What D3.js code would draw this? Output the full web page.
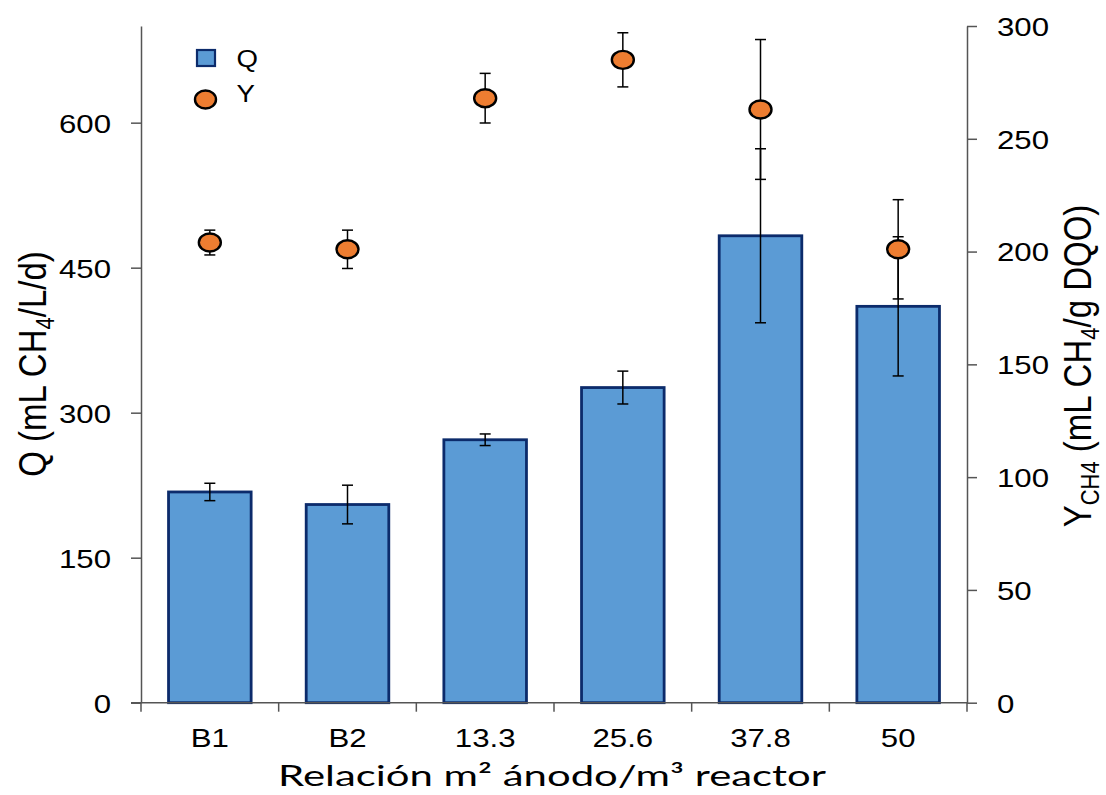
<!DOCTYPE html>
<html>
<head>
<meta charset="utf-8">
<script src="https://cdn.jsdelivr.net/npm/d3@7"></script>
<style>
  html, body { margin: 0; padding: 0; background: #ffffff; }
  svg { display: block; }
</style>
</head>
<body>
<svg id="chart" width="1106" height="795"></svg>
<script>
// Methane production (Q, bars) and yield (Y, points) per anode/reactor ratio
const categories = ["B1", "B2", "13.3", "25.6", "37.8", "50"];
const qValues = [218, 205, 272, 326, 483, 410];   // mL CH4/L/d
const qErrors = [9, 20, 6, 17, 90, 72];
const yValues = [204, 201, 268, 285, 263, 201];   // mL CH4/g DQO
const yErrors = [5.5, 8.5, 11, 12, 31, 22];
const qTicks = [0, 150, 300, 450, 600];
const yTicks = [0, 50, 100, 150, 200, 250, 300];

const SX = 1.2;                      // horizontal stretch of lettering
const FONT = "'Liberation Sans', Arial, sans-serif";
const BAR_FILL = "#5b9bd5", BAR_STROKE = "#0c2b6b";
const DOT_FILL = "#ed7d31";
const AXIS = "#555555";

const plotLeft = 141, plotRight = 967, plotTop = 26, plotBottom = 702.7;

const svg = d3.select("#chart");

const x = d3.scaleBand().domain(categories).range([plotLeft, plotRight])
  .paddingInner(0.4).paddingOuter(0.2);
const bounds = d3.scaleLinear().domain([0, categories.length]).range([plotLeft, plotRight]);
const yQ = d3.scaleLinear().domain([0, 700]).range([plotBottom, plotTop]);
const yY = d3.scaleLinear().domain([0, 300]).range([plotBottom, plotTop]);

const data = categories.map((c, i) => ({
  c, q: qValues[i], qe: qErrors[i], y: yValues[i], ye: yErrors[i]
}));

// Bars
svg.append("g").selectAll("rect").data(data).join("rect")
  .attr("x", d => x(d.c))
  .attr("y", d => yQ(d.q))
  .attr("width", x.bandwidth())
  .attr("height", d => yQ(0) - yQ(d.q))
  .attr("fill", BAR_FILL)
  .attr("stroke", BAR_STROKE)
  .attr("stroke-width", 2.8);

// Error bars helper
function errorBars(scale, val, err) {
  const g = svg.append("g").attr("stroke", "#000").attr("stroke-width", 1.5).attr("fill", "none");
  const cx = d => x(d.c) + x.bandwidth() / 2;
  g.selectAll("line.v").data(data).join("line").attr("class", "v")
    .attr("x1", cx).attr("x2", cx)
    .attr("y1", d => scale(val(d) + err(d))).attr("y2", d => scale(val(d) - err(d)));
  [1, -1].forEach(s => {
    const cls = s > 0 ? "ct" : "cb";
    g.selectAll("line." + cls).data(data).join("line")
      .attr("class", cls)
      .attr("x1", d => cx(d) - 5.5).attr("x2", d => cx(d) + 5.5)
      .attr("y1", d => scale(val(d) + s * err(d))).attr("y2", d => scale(val(d) + s * err(d)));
  });
}
errorBars(yQ, d => d.q, d => d.qe);
errorBars(yY, d => d.y, d => d.ye);

// Yield points
svg.append("g").selectAll("ellipse").data(data).join("ellipse")
  .attr("cx", d => x(d.c) + x.bandwidth() / 2)
  .attr("cy", d => yY(d.y))
  .attr("rx", 11).attr("ry", 9)
  .attr("fill", DOT_FILL)
  .attr("stroke", "#000")
  .attr("stroke-width", 2.4);

// Axes
function styleAxis(g) {
  g.selectAll(".domain").attr("stroke", AXIS).attr("stroke-width", 1.5);
  g.selectAll(".tick line").attr("stroke", AXIS).attr("stroke-width", 1.5);
  g.selectAll("text").attr("fill", "#000").style("font-family", FONT).style("font-size", "26px");
}

const gL = svg.append("g").attr("transform", `translate(${plotLeft},0)`)
  .call(d3.axisLeft(yQ).tickValues(qTicks).tickSize(10).tickSizeOuter(0));
styleAxis(gL);
gL.selectAll(".tick text").attr("x", -30 / SX).attr("dy", "0.36em")
  .attr("transform", `scale(${SX},1)`);

const gR = svg.append("g").attr("transform", `translate(${plotRight},0)`)
  .call(d3.axisRight(yY).tickValues(yTicks).tickSize(10).tickSizeOuter(0));
styleAxis(gR);
gR.selectAll(".tick text").attr("x", 30 / SX).attr("dy", "0.36em")
  .attr("transform", `scale(${SX},1)`);

const gB = svg.append("g").attr("transform", `translate(0,${plotBottom})`)
  .call(d3.axisBottom(x).tickSize(0).tickSizeOuter(0));
styleAxis(gB);
gB.select(".domain").attr("d", `M${plotLeft - 10},0H${plotRight}`);
gB.selectAll(".tick text").attr("y", 44).attr("dy", 0).attr("x", 0)
  .attr("transform", `scale(${SX},1)`);
gB.selectAll("line.bound").data(d3.range(categories.length + 1)).join("line")
  .attr("class", "bound")
  .attr("x1", i => bounds(i)).attr("x2", i => bounds(i))
  .attr("y1", 0).attr("y2", 9)
  .attr("stroke", AXIS).attr("stroke-width", 1.5);

// Stretched text helper
function label(px, py, rot, size, anchor, family) {
  return svg.append("text")
    .attr("transform", `translate(${px},${py}) scale(${SX},1)` + (rot ? ` rotate(${rot})` : ""))
    .attr("text-anchor", anchor)
    .style("font-family", family || FONT)
    .style("font-size", size + "px")
    .attr("fill", "#000");
}

// Left axis title
const tL = label(46, 364, -90, 33, "middle");
tL.append("tspan").text("Q (mL CH");
tL.append("tspan").attr("dy", 7).style("font-size", "22px").text("4");
tL.append("tspan").attr("dy", -7).text("/L/d)");

// Right axis title
const tR = label(1091, 366, -90, 33, "middle");
tR.append("tspan").text("Y");
tR.append("tspan").attr("dy", 7).style("font-size", "22px").text("CH4");
tR.append("tspan").attr("dy", -7).text(" (mL CH");
tR.append("tspan").attr("dy", 7).style("font-size", "22px").text("4");
tR.append("tspan").attr("dy", -7).text("/g DQO)");

// Bottom axis title
const tB = svg.append("text")
  .attr("text-anchor", "middle")
  .style("font-family", "Lato, 'Open Sans', sans-serif")
  .style("font-size", "29px")
  .attr("fill", "#000")
  .text("Relación m² ánodo/m³ reactor");
const wB = tB.node().getComputedTextLength();
const sB = 548 / wB;
tB.attr("transform", `translate(552,786) scale(${sB},1)`);

// Legend
const lg = svg.append("g");
lg.append("rect").attr("x", 197).attr("y", 50).attr("width", 18).attr("height", 16)
  .attr("fill", BAR_FILL).attr("stroke", BAR_STROKE).attr("stroke-width", 2.2);
lg.append("ellipse").attr("cx", 205.5).attr("cy", 99.5).attr("rx", 10.5).attr("ry", 9)
  .attr("fill", DOT_FILL).attr("stroke", "#000").attr("stroke-width", 2.4);
label(236.5, 67, 0, 23, "start").text("Q");
label(236.5, 101.5, 0, 23, "start").text("Y");
</script>
</body>
</html>
